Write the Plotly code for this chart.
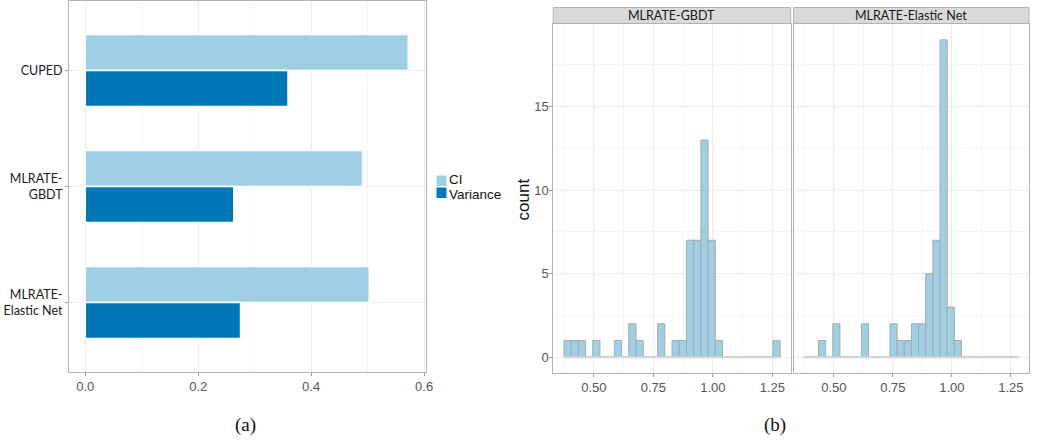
import plotly.graph_objects as go

# ---------------- data ----------------
methods = ["CUPED", "MLRATE-<br>GBDT", "MLRATE-<br>Elastic Net"]
ci_values = [0.572, 0.491, 0.503]
variance_values = [0.359, 0.263, 0.275]

bin_left = 0.374
bin_width = 0.0303
gbdt_counts = [1, 1, 1, 0, 1, 0, 0, 1, 0, 2, 1, 0, 0, 2, 0, 1, 1, 7, 7, 13, 7, 1, 0, 0, 0, 0, 0, 0, 0, 1]
enet_counts = [0, 0, 1, 0, 2, 0, 0, 0, 2, 0, 0, 0, 2, 1, 1, 2, 2, 5, 7, 19, 3, 1, 0, 0, 0, 0, 0, 0, 0, 0]
facet_titles = ["MLRATE-GBDT", "MLRATE-Elastic Net"]

# ---------------- styling ----------------
W, H = 1037, 442
CI_COLOR = "#9ecfe5"
VAR_COLOR = "#0078b8"
HIST_FILL = "#9ecfe5"
HIST_LINE = "#aaaaaa"
BORDER = "#b3b3b3"
GRID = "#ebebeb"
MINOR = "#f5f5f5"
TICKFONT = dict(family="Liberation Sans, Arial, sans-serif", size=13, color="#555555")
CATFONT = dict(family="Lato, Calibri, sans-serif", size=12.5, color="#1a1a1a")


def xd(a, b):
    return [a / W, b / W]


def yd(top, bottom):
    return [1 - bottom / H, 1 - top / H]


fig = go.Figure()

# ---- panel (a): horizontal grouped bars ----
fig.add_trace(go.Bar(
    y=list(range(len(methods))), x=ci_values, orientation="h", name="CI",
    marker=dict(color=CI_COLOR, line=dict(color="white", width=1.5)),
    xaxis="x", yaxis="y", showlegend=False))
fig.add_trace(go.Bar(
    y=list(range(len(methods))), x=variance_values, orientation="h", name="Variance",
    marker=dict(color=VAR_COLOR, line=dict(color="white", width=1.5)),
    xaxis="x", yaxis="y", showlegend=False))

# ---- panel (b): histograms ----
n_bins = len(gbdt_counts)
centers = [bin_left + bin_width * (i + 0.5) for i in range(n_bins)]
edge_lo, edge_hi = bin_left, bin_left + bin_width * n_bins

for k, (counts, xa, ya) in enumerate([(gbdt_counts, "x2", "y2"), (enet_counts, "x3", "y3")]):
    fig.add_trace(go.Scatter(x=[edge_lo, edge_hi], y=[0, 0], mode="lines",
                             line=dict(color="#d4d4d4", width=2), xaxis=xa, yaxis=ya,
                             showlegend=False, hoverinfo="skip"))
    fig.add_trace(go.Bar(x=centers, y=counts, width=bin_width,
                         marker=dict(color=HIST_FILL, line=dict(color=HIST_LINE, width=1)),
                         xaxis=xa, yaxis=ya, showlegend=False, name=facet_titles[k]))

common_axis = dict(showline=True, mirror=True, linecolor=BORDER, linewidth=1,
                   gridcolor=GRID, gridwidth=1, zeroline=False, tickfont=TICKFONT,
                   ticks="outside", ticklen=3, tickcolor="#999999")
x_common = dict(common_axis, ticklabelstandoff=-1)
y_common = dict(common_axis, ticklabelstandoff=-2)

hist_x = dict(x_common, range=[0.329, 1.327], tick0=0.5, dtick=0.25, tickformat=".2f",
              minor=dict(tick0=0.375, dtick=0.125, showgrid=True, gridcolor=MINOR, ticks=""))
hist_y = dict(y_common, range=[-0.95, 19.95], tick0=0, dtick=5,
              minor=dict(tick0=2.5, dtick=2.5, showgrid=True, gridcolor=MINOR, ticks=""))

fig.update_layout(
    width=W, height=H, margin=dict(l=0, r=0, t=0, b=0),
    paper_bgcolor="white", plot_bgcolor="white",
    barmode="group", bargap=0.38, bargroupgap=0,
    showlegend=False,
    xaxis=dict(x_common, domain=xd(69.5, 428.5), anchor="y",
               range=[-0.0287, 0.6027], tick0=0, dtick=0.2, tickformat=".1f",
               minor=dict(tick0=0.1, dtick=0.1, showgrid=True, gridcolor=MINOR, ticks="")),
    yaxis=dict(common_axis, domain=yd(1, 372), anchor="x",
               tickvals=list(range(len(methods))), ticktext=methods,
               range=[2.6, -0.6], tickfont=CATFONT, ticklen=3),
    xaxis2=dict(hist_x, domain=xd(557, 796), anchor="y2"),
    yaxis2=dict(hist_y, domain=yd(24, 373), anchor="x2"),
    xaxis3=dict(hist_x, domain=xd(799, 1036), anchor="y3"),
    yaxis3=dict(hist_y, domain=yd(24, 373), anchor="x3", showticklabels=False, ticks=""),
)

shapes = []
annotations = []
# facet strips
for (a, b), title in zip([(557, 796), (799, 1036)], facet_titles):
    shapes.append(dict(type="rect", xref="paper", yref="paper",
                       x0=a / W, x1=b / W, y0=1 - 23.5 / H, y1=1 - 7.5 / H,
                       fillcolor="#d9d9d9", line=dict(color=BORDER, width=1)))
    annotations.append(dict(text=title, xref="paper", yref="paper",
                            x=(a + b) / 2 / W, y=1 - 15.5 / H, showarrow=False,
                            xanchor="center", yanchor="middle",
                            font=dict(family="Lato, Calibri, sans-serif", size=12.5, color="#1a1a1a")))

# y-axis title of panel (b)
annotations.append(dict(text="count", xref="paper", yref="paper", x=528 / W, y=1 - 199 / H,
                        showarrow=False, textangle=-90, xanchor="center", yanchor="middle",
                        font=dict(family="Liberation Sans, Arial, sans-serif", size=17,
                                  color="#111111")))

# legend for panel (a)
legend_items = [("CI", CI_COLOR), ("Variance", VAR_COLOR)]
split_y = 187.0
for i, (lab, col) in enumerate(legend_items):
    top = 175.5 + i * 12
    shapes.append(dict(type="rect", xref="paper", yref="paper",
                       x0=439.5 / W, x1=449.5 / W, y0=1 - (top + 10.5) / H, y1=1 - top / H,
                       fillcolor=col, line=dict(width=0)))
    annotations.append(dict(text=lab, xref="paper", yref="paper", x=452 / W,
                            y=1 - split_y / H, showarrow=False, xanchor="left",
                            yanchor="bottom" if i == 0 else "top", borderpad=0, borderwidth=0,
                            font=dict(family="Liberation Sans, Arial, sans-serif", size=13.5,
                                      color="#111111")))

# captions
for lab, xpx in [("(a)", 247), ("(b)", 780)]:
    annotations.append(dict(text=lab, xref="paper", yref="paper", x=xpx / W, y=1 - 425 / H,
                            showarrow=False, xanchor="center", yanchor="middle",
                            font=dict(family="Liberation Serif, Times New Roman, serif",
                                      size=19, color="#111111")))

fig.update_layout(shapes=shapes, annotations=annotations)

fig.write_html("out.html", config={"displayModeBar": False},
               post_script="document.body.style.margin='0';document.body.style.overflow='hidden';")
